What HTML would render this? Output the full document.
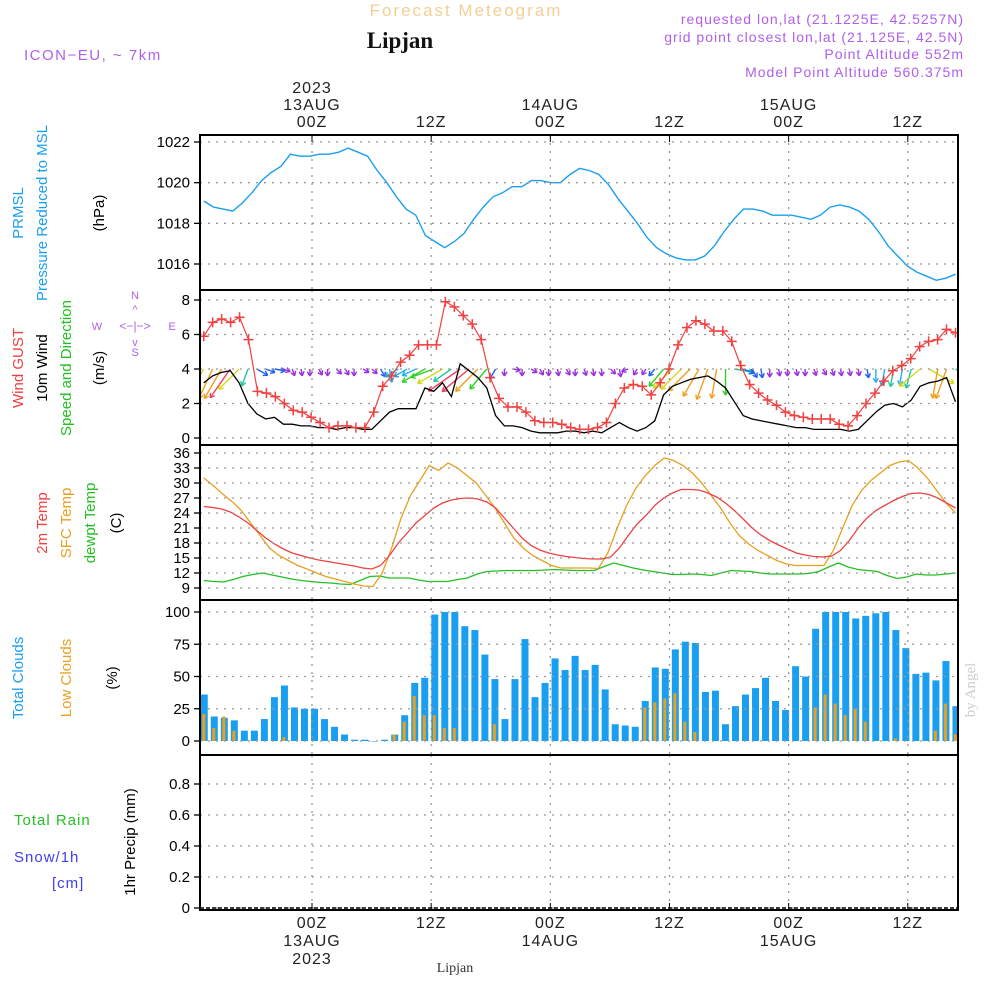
<!DOCTYPE html>
<html><head><meta charset="utf-8"><style>
html,body{margin:0;padding:0;background:#fff;}
svg{display:block;font-family:"Liberation Sans",sans-serif;}
</style></head><body>
<svg id="chart" width="1000" height="1000" viewBox="0 0 1000 1000" xmlns="http://www.w3.org/2000/svg">
<defs><clipPath id="pc"><rect x="200" y="135" width="758" height="775"/></clipPath></defs>
<g>
<text x="466" y="16" text-anchor="middle" font-size="17" fill="#f3cf95" letter-spacing="2">Forecast Meteogram</text>
<text x="400" y="48" text-anchor="middle" font-size="23" font-weight="bold" font-family="Liberation Serif,serif" fill="#111">Lipjan</text>
<text x="24" y="60" font-size="15" fill="#b060e8" letter-spacing="1.5">ICON−EU, ~ 7km</text>
<text x="964" y="24" text-anchor="end" font-size="14" fill="#b060e8" letter-spacing="1">requested lon,lat (21.1225E, 42.5257N)</text>
<text x="964" y="42" text-anchor="end" font-size="14" fill="#b060e8" letter-spacing="1">grid point closest lon,lat (21.125E, 42.5N)</text>
<text x="964" y="59" text-anchor="end" font-size="14" fill="#b060e8" letter-spacing="1">Point Altitude 552m</text>
<text x="964" y="77" text-anchor="end" font-size="14" fill="#b060e8" letter-spacing="1">Model Point Altitude 560.375m</text>
<text x="975" y="690" font-size="15" fill="#ccc" font-family="Liberation Serif,serif" transform="rotate(-90 975 690)" text-anchor="middle">by Angel</text>
</g>
<g font-size="15">
<text transform="translate(23,213) rotate(-90)" text-anchor="middle" fill="#1a9ff0">PRMSL</text>
<text transform="translate(47,213) rotate(-90)" text-anchor="middle" fill="#1a9ff0">Pressure Reduced to MSL</text>
<text transform="translate(104,213) rotate(-90)" text-anchor="middle" fill="#000">(hPa)</text>
<text transform="translate(23,368) rotate(-90)" text-anchor="middle" fill="#f04040">Wind GUST</text>
<text transform="translate(47,368) rotate(-90)" text-anchor="middle" fill="#000">10m Wind</text>
<text transform="translate(71,368) rotate(-90)" text-anchor="middle" fill="#22c022">Speed and Direction</text>
<text transform="translate(104,368) rotate(-90)" text-anchor="middle" fill="#000">(m/s)</text>
<g fill="#b060e8" font-size="11" stroke="none">
<text x="135" y="299" text-anchor="middle">N</text><text x="135" y="356" text-anchor="middle">S</text>
<text x="97" y="330" text-anchor="middle">W</text><text x="172" y="330" text-anchor="middle">E</text>
<text x="135" y="330" text-anchor="middle" font-size="12">&lt;−|−&gt;</text>
<text x="135" y="313" text-anchor="middle">^</text><text x="135" y="346" text-anchor="middle">v</text>
</g>
<text transform="translate(47,523) rotate(-90)" text-anchor="middle" fill="#f04040">2m Temp</text>
<text transform="translate(71,523) rotate(-90)" text-anchor="middle" fill="#e8a020">SFC Temp</text>
<text transform="translate(95,523) rotate(-90)" text-anchor="middle" fill="#22c022">dewpt Temp</text>
<text transform="translate(121,523) rotate(-90)" text-anchor="middle" fill="#000">(C)</text>
<text transform="translate(23,678) rotate(-90)" text-anchor="middle" fill="#1a9ff0">Total Clouds</text>
<text transform="translate(71,678) rotate(-90)" text-anchor="middle" fill="#e8a020">Low Clouds</text>
<text transform="translate(117,678) rotate(-90)" text-anchor="middle" fill="#000">(%)</text>
<text x="14" y="825" fill="#22c022" letter-spacing="1">Total  Rain</text>
<text x="14" y="862" fill="#4040f0" letter-spacing="1">Snow/1h</text>
<text x="52" y="888" fill="#4040f0" letter-spacing="1">[cm]</text>
<text transform="translate(135,842) rotate(-90)" text-anchor="middle" fill="#000">1hr Precip (mm)</text>
</g>
<g id="plot"></g>
</svg>
<script>
// forecast span in hours relative to 13AUG 00Z covered by each series
const spanStart = -10.9, spanEnd = 64.8;
const pressure = [1019.1,1018.8,1018.7,1018.6,1019.0,1019.5,1020.1,1020.5,1020.8,1021.4,1021.3,1021.3,1021.4,1021.4,1021.5,1021.7,1021.5,1021.3,1020.6,1020.0,1019.3,1018.7,1018.4,1017.4,1017.1,1016.8,1017.1,1017.5,1018.2,1018.8,1019.3,1019.5,1019.8,1019.8,1020.1,1020.1,1020.0,1020.0,1020.4,1020.7,1020.6,1020.4,1019.9,1019.2,1018.6,1018.0,1017.3,1016.8,1016.5,1016.3,1016.2,1016.2,1016.4,1016.9,1017.6,1018.2,1018.7,1018.7,1018.6,1018.4,1018.4,1018.4,1018.3,1018.2,1018.4,1018.8,1018.9,1018.8,1018.6,1018.2,1017.6,1016.9,1016.4,1015.9,1015.6,1015.4,1015.2,1015.3,1015.5];
const gust = [5.9,6.7,6.9,6.7,7.0,5.7,2.7,2.6,2.4,2.0,1.6,1.5,1.2,0.9,0.6,0.7,0.7,0.6,0.6,1.5,3.0,3.6,4.4,4.8,5.4,5.4,5.4,7.9,7.6,7.1,6.6,5.7,3.5,2.3,1.8,1.8,1.5,1.0,0.9,0.9,0.8,0.6,0.5,0.5,0.6,0.9,2.0,2.9,3.1,3.0,2.5,3.2,4.0,5.4,6.4,6.8,6.6,6.2,6.2,5.6,4.2,3.1,2.6,2.2,1.9,1.5,1.3,1.2,1.1,1.1,1.1,0.8,0.7,1.3,2.0,2.6,3.3,3.9,4.2,4.6,5.3,5.6,5.7,6.3,6.1];
const wind = [3.2,3.6,3.8,3.9,3.2,2.0,1.4,1.1,1.2,0.8,0.8,0.7,0.7,0.6,0.6,0.5,0.6,0.6,0.5,0.5,1.0,1.5,1.7,1.7,1.7,2.9,2.7,3.2,2.4,4.3,3.9,3.5,2.9,1.3,0.7,0.7,0.6,0.4,0.3,0.3,0.3,0.4,0.4,0.3,0.4,0.3,0.6,0.9,0.6,0.4,0.6,1.0,2.5,3.0,3.2,3.4,3.5,3.6,3.3,2.9,2.1,1.3,1.1,1.0,0.9,0.8,0.7,0.6,0.6,0.5,0.5,0.5,0.5,0.4,0.5,1.0,1.5,1.9,2.0,1.8,2.2,3.0,3.2,3.3,3.5,2.1];
// screen direction the arrow points (deg, 0=east, 90=down)
const windDir = [120,115,120,125,135,110,30,20,10,20,70,80,90,60,90,45,60,90,30,40,60,80,150,150,155,150,160,150,145,145,140,135,130,120,90,10,0,30,60,90,80,60,90,70,80,90,45,80,160,120,125,130,130,135,135,135,120,110,100,0,10,20,60,80,90,80,90,80,90,70,60,70,80,80,80,80,90,100,100,100,105,140,30,100,110,30];
const temp2m = [25.3,25.1,24.8,24.2,23.2,22.0,20.5,19.0,17.8,16.8,16.0,15.5,15.0,14.6,14.3,14.0,13.7,13.4,13.0,12.8,13.5,15.5,18.0,20.0,22.0,23.5,25.0,26.0,26.6,26.9,27.0,26.8,26.2,25.0,23.0,21.0,19.0,17.5,16.6,16.0,15.6,15.3,15.1,14.9,14.8,14.8,15.2,17.0,19.5,21.8,23.5,25.5,27.0,28.0,28.7,28.7,28.6,28.0,27.2,26.0,24.5,22.8,21.0,19.6,18.5,17.6,16.8,16.0,15.6,15.3,15.2,15.4,16.5,18.5,21.0,23.0,24.5,25.5,26.5,27.3,27.9,28.0,27.7,27.0,26.0,25.0];
const tempSfc = [31.0,29.5,27.8,26.3,24.5,22.0,19.5,17.0,15.5,14.5,13.5,12.8,12.0,11.3,10.8,10.3,9.8,9.4,9.3,12.0,17.0,23.0,27.5,30.5,33.5,32.5,34.0,33.0,31.5,30.0,27.5,25.0,22.0,19.0,17.0,15.5,14.5,13.5,13.0,13.0,13.0,13.0,12.9,16.0,21.0,25.5,29.0,31.5,33.5,35.0,34.5,33.5,32.0,30.0,27.5,25.0,22.0,19.5,17.8,16.5,15.5,14.5,13.8,13.5,13.5,13.5,13.5,16.5,21.0,25.5,28.5,30.5,32.0,33.5,34.2,34.5,33.0,31.0,28.5,26.0,24.0];
const dewpt = [10.5,10.3,10.2,10.7,11.3,11.7,12.0,11.6,11.2,10.8,10.5,10.3,10.1,10.0,9.8,9.7,10.5,11.3,11.4,11.0,11.0,11.0,10.6,10.3,10.3,10.3,10.7,11.0,11.8,12.3,12.4,12.5,12.5,12.5,12.5,12.6,12.7,12.6,12.5,12.5,12.5,13.3,14.0,13.5,13.0,12.6,12.3,12.0,11.7,11.7,11.8,11.7,11.5,12.0,12.5,12.4,12.3,12.0,11.8,11.8,11.8,11.8,11.9,12.3,13.2,14.0,13.2,12.7,12.5,12.3,11.5,10.9,11.2,11.8,11.6,11.6,11.8,12.0];
const totalClouds = [36,19,18,16,8,8,17,34,43,26,25,25,17,11,5,1,1,0,1,5,20,45,49,98,100,100,89,86,67,48,17,48,79,34,45,64,55,66,55,59,40,13,12,11,31,57,56,71,77,76,38,39,13,27,36,41,49,31,24,58,50,87,100,100,100,95,97,99,100,86,72,52,53,47,62,27];
const lowClouds = [21,10,19,8,0,0,0,0,3,0,0,0,0,0,0,0,0,0,0,5,15,35,20,20,10,10,0,0,0,13,0,0,0,0,0,0,0,0,0,0,0,0,0,0,26,30,33,37,15,7,0,0,0,0,0,0,0,0,0,0,0,26,36,29,20,25,15,0,0,2,0,0,0,8,29,5];
const pTicks=[1016,1018,1020,1022], wTicks=[0,2,4,6,8], tTicks=[9,12,15,18,21,24,27,30,33,36], cTicks=[0,25,50,75,100], rTicks=[0,0.2,0.4,0.6,0.8];
const timeLabels=[{h:0,t:"00Z",d:"13AUG",y:"2023"},{h:12,t:"12Z"},{h:24,t:"00Z",d:"14AUG"},{h:36,t:"12Z"},{h:48,t:"00Z",d:"15AUG"},{h:60,t:"12Z"}];

const NS="http://www.w3.org/2000/svg";
const plot=document.getElementById('plot');
const X0=200,X1=958;
const xOf=h=>312+h*9.93;
// each series spans the same forecast window; sample i of n maps to its hour
const xs=(i,n)=>xOf(spanStart+i*(spanEnd-spanStart)/(n-1));
function mk(tag,attrs,parent){const e=document.createElementNS(NS,tag);for(const k in attrs)e.setAttribute(k,attrs[k]);(parent||plot).appendChild(e);return e;}
const panels=[
 {top:135,bot:290,ticks:pTicks,y0:142,v0:1022,y1:264,v1:1016,name:'pressure-panel'},
 {top:290,bot:445,ticks:wTicks,y0:438,v0:0,y1:300,v1:8,name:'wind-panel'},
 {top:445,bot:600,ticks:tTicks,y0:588,v0:9,y1:453,v1:36,name:'temp-panel'},
 {top:600,bot:755,ticks:cTicks,y0:741,v0:0,y1:612,v1:100,name:'clouds-panel'},
 {top:755,bot:910,ticks:rTicks,y0:908,v0:0,y1:784,v1:0.8,name:'precip-panel'}];
panels.forEach(p=>{p.y=v=>p.y0+(v-p.v0)*(p.y1-p.y0)/(p.v1-p.v0);});
panels.forEach((p,pi)=>{
 const g=mk('g',{});
 
 
 p.g=g;
 p.d=mk('g',{'clip-path':'url(#pc)'},g);
 p.ticks.forEach(v=>{
  const y=p.y(v);
  const l=mk('line',{x1:X0,x2:X1,y1:y,y2:y,stroke:'#999','stroke-dasharray':'2,6','stroke-width':1.3},g);
  
  
  mk('line',{x1:X0-6,x2:X0,y1:y,y2:y,stroke:'#000','stroke-width':1.3},g);
  const t=mk('text',{x:X0-10,y:y+5,'text-anchor':'end','font-size':15,fill:'#000'},g);
  t.textContent=(pi==4 && v==0)?'0':(pi==4?v.toFixed(1):v);
  
  
 });
 timeLabels.forEach(tl=>{
  const x=xOf(tl.h);
  const l=mk('line',{x1:x,x2:x,y1:p.top,y2:p.bot,stroke:'#999','stroke-dasharray':'2,6','stroke-width':1.3},g);
  
  
 });
 const r=mk('rect',{x:X0,y:p.top,width:X1-X0,height:p.bot-p.top,fill:'none',stroke:'#000','stroke-width':2},g);
 
 
});
timeLabels.forEach(tl=>{
 const x=xOf(tl.h);
 mk('line',{x1:x,x2:x,y1:135,y2:142,stroke:'#000'});
 mk('line',{x1:x,x2:x,y1:903,y2:910,stroke:'#000'});
 const lines=[tl.t,tl.d,tl.y];
 lines.forEach((s,k)=>{ if(!s)return;
  const t=mk('text',{x:x,y:127-17*k,'text-anchor':'middle','font-size':16,fill:'#222','letter-spacing':'1'});
  t.textContent=s;
  
  
  const b=mk('text',{x:x,y:928+18*k,'text-anchor':'middle','font-size':16,fill:'#222','letter-spacing':'1'});
  b.textContent=s;
  
  
 });
});
const foot=mk('text',{x:455,y:972,'text-anchor':'middle','font-size':14,'font-family':'Liberation Serif,serif',fill:'#333'});
foot.textContent='Lipjan';



function line(p,arr,color,name,w){
 const pts=arr.map((v,i)=>xs(i,arr.length).toFixed(1)+','+p.y(v).toFixed(1)).join(' ');
 const e=mk('polyline',{points:pts,fill:'none',stroke:color,'stroke-width':w||1.3},p.d);
 
 
 return e;
}
const P=panels;
line(P[0],pressure,'#1a9ff0','pressure-line',1.4);
function spdColor(s){if(s<1)return '#9a30e0';if(s<1.5)return '#2060f0';if(s<2)return '#20b0f0';if(s<2.5)return '#20c8a0';if(s<3)return '#30d020';if(s<3.3)return '#d8d820';if(s<3.9)return '#f0a020';return '#f04060';}
wind.forEach((s,i)=>{
 const x=xs(i,wind.length),y=P[1].y(4);
 const L=Math.max(7,s*9), a=(windDir[i]||90)*Math.PI/180;
 const x2=x+L*Math.cos(a),y2=y+L*Math.sin(a);
 const c=spdColor(s);
 const g=mk('g',{stroke:c,'stroke-width':1.4,fill:'none'},P[1].d);
 
 
 mk('line',{x1:x,y1:y,x2:x2,y2:y2},g);
 const h=5;
 [a+2.6,a-2.6].forEach(b=>mk('line',{x1:x2,y1:y2,x2:x2+h*Math.cos(b),y2:y2+h*Math.sin(b)},g));
});
line(P[1],wind,'#000','wind-speed-line',1.3);
line(P[1],gust,'#f04040','gust-line',1.2);
gust.forEach((v,i)=>{
 const x=xs(i,gust.length),y=P[1].y(v);
 const m=mk('path',{d:`M${x-5},${y}H${x+5}M${x},${y-5}V${y+5}`,stroke:'#f04040','stroke-width':1.5},P[1].d);
 
 
});
line(P[2],dewpt,'#22c022','dewpt-line',1.3);
line(P[2],tempSfc,'#e8a020','sfc-temp-line',1.3);
line(P[2],temp2m,'#f04040','temp-2m-line',1.3);
totalClouds.forEach((v,i)=>{
 const x=xs(i,totalClouds.length),y=P[3].y(v),y0=P[3].y(0);
 const b=mk('rect',{x:x-3,y:y,width:7,height:Math.max(0.5,y0-y),fill:'#1a9ff0'},P[3].d);
 
 
});
lowClouds.forEach((v,i)=>{
 if(!v)return;
 const x=xs(i,lowClouds.length),y=P[3].y(v),y0=P[3].y(0);
 const b=mk('rect',{x:x-1.5,y:y,width:3,height:y0-y,fill:'#e8a020'},P[3].d);
 
 
});
mk('line',{x1:X0,x2:X1,y1:P[4].y(0),y2:P[4].y(0),stroke:'#000','stroke-width':1.5,'stroke-dasharray':'4,2'});
</script>
</body></html>
